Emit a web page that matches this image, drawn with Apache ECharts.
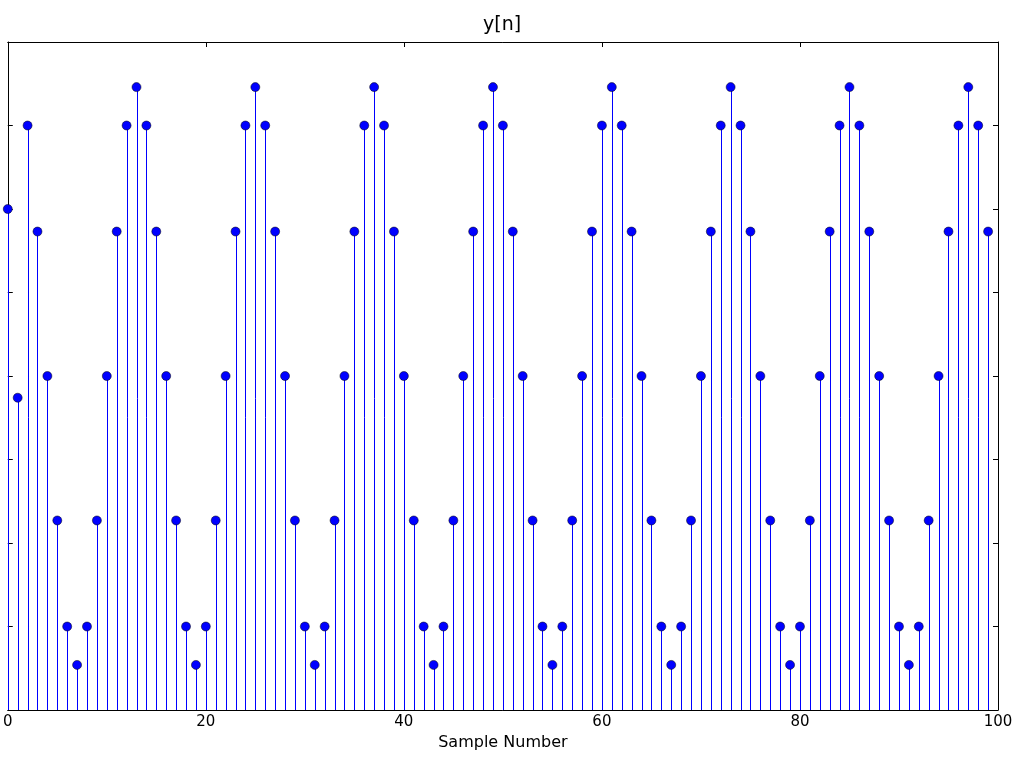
<!DOCTYPE html>
<html>
<head>
<meta charset="utf-8">
<script src="https://cdn.jsdelivr.net/npm/echarts@6/dist/echarts.min.js"></script>
<style>
html,body{margin:0;padding:0;background:#fff;}
#chart{width:1024px;height:765px;}
</style>
</head>
<body>
<div id="chart"></div>
<script>
// Sample values y[n], n = 0..99
const yValues = [
  6.0, 3.74,
  7.0, 5.73, 4.0, 2.27, 1.0, 0.54, 1.0, 2.27, 4.0, 5.73, 7.0, 7.46,
  7.0, 5.73, 4.0, 2.27, 1.0, 0.54, 1.0, 2.27, 4.0, 5.73, 7.0, 7.46,
  7.0, 5.73, 4.0, 2.27, 1.0, 0.54, 1.0, 2.27, 4.0, 5.73, 7.0, 7.46,
  7.0, 5.73, 4.0, 2.27, 1.0, 0.54, 1.0, 2.27, 4.0, 5.73, 7.0, 7.46,
  7.0, 5.73, 4.0, 2.27, 1.0, 0.54, 1.0, 2.27, 4.0, 5.73, 7.0, 7.46,
  7.0, 5.73, 4.0, 2.27, 1.0, 0.54, 1.0, 2.27, 4.0, 5.73, 7.0, 7.46,
  7.0, 5.73, 4.0, 2.27, 1.0, 0.54, 1.0, 2.27, 4.0, 5.73, 7.0, 7.46,
  7.0, 5.73, 4.0, 2.27, 1.0, 0.54, 1.0, 2.27, 4.0, 5.73, 7.0, 7.46,
  7.0, 5.73
];
const xTicks = [0, 20, 40, 60, 80, 100];
const titleText = 'y[n]';
const xLabel = 'Sample Number';

const points = yValues.map((v, i) => [i, v]);
const font = 'DejaVu Sans';

const tickStyle = { show: true, inside: true, length: 5, lineStyle: { color: '#000', width: 1 } };
const lineStyle = { show: true, onZero: false, lineStyle: { color: '#000', width: 1 } };

const chart = echarts.init(document.getElementById('chart'), null, { renderer: 'canvas' });
chart.setOption({
  animation: false,
  backgroundColor: '#fff',
  title: {
    text: titleText,
    left: 478,
    top: 11,
    textStyle: { fontFamily: font, fontSize: 19, fontWeight: 'normal', color: '#000' }
  },
  grid: { left: 6, right: 26, top: 42, bottom: 55, containLabel: false },
  xAxis: [
    {
      type: 'value', position: 'bottom', min: xTicks[0], max: xTicks[xTicks.length - 1], interval: 20,
      axisLine: lineStyle, axisTick: tickStyle, splitLine: { show: false },
      axisLabel: { show: true, margin: 5, color: '#000', fontFamily: font, fontSize: 15 },
      name: xLabel, nameLocation: 'middle', nameGap: 21,
      nameTextStyle: { fontFamily: font, fontSize: 16, color: '#000' }
    },
    {
      type: 'value', position: 'top', min: xTicks[0], max: xTicks[xTicks.length - 1], interval: 20,
      axisLine: lineStyle, axisTick: tickStyle, splitLine: { show: false },
      axisLabel: { show: false }
    }
  ],
  yAxis: [
    {
      type: 'value', position: 'left', min: 0, max: 8, interval: 1,
      axisLine: lineStyle, axisTick: tickStyle, splitLine: { show: false },
      axisLabel: { show: false }
    },
    {
      type: 'value', position: 'right', min: 0, max: 8, interval: 1,
      axisLine: lineStyle, axisTick: tickStyle, splitLine: { show: false },
      axisLabel: { show: false }
    }
  ],
  series: [
    {
      type: 'custom',
      xAxisIndex: 0, yAxisIndex: 0,
      data: points,
      clip: false,
      renderItem: function (params, api) {
        const x = api.value(0);
        const p0 = api.coord([x, 0]);
        const p1 = api.coord([x, api.value(1)]);
        const px = Math.round(p0[0]) + 0.5;
        return {
          type: 'line',
          shape: { x1: px, y1: p0[1], x2: px, y2: p1[1] },
          style: { stroke: '#0000ff', lineWidth: 1 }
        };
      },
      z: 2
    },
    {
      type: 'scatter',
      xAxisIndex: 0, yAxisIndex: 0,
      data: points,
      symbol: 'circle',
      symbolSize: 9,
      clip: false,
      itemStyle: { color: '#0000ff', borderColor: '#000', borderWidth: 0.5, opacity: 1 },
      z: 3
    }
  ]
});
</script>
</body>
</html>
